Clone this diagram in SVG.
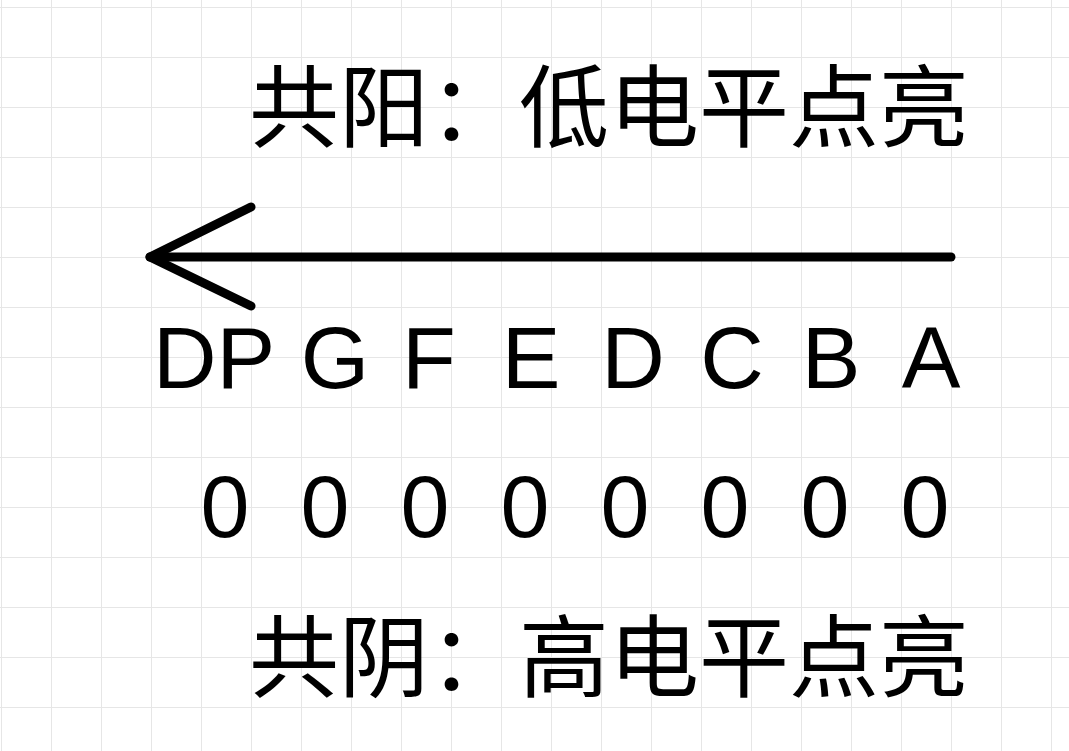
<svg xmlns="http://www.w3.org/2000/svg" width="1069" height="751" viewBox="0 0 1069 751">
<defs>
<pattern id="grid" x="1" y="7" width="50" height="50" patternUnits="userSpaceOnUse">
<path d="M0.5 0V50M0 0.5H50" fill="none" stroke="#e6e6e6" stroke-width="1"/>
</pattern>
<style>
.cjk{font-family:"Liberation Sans","Noto Sans CJK SC",sans-serif;font-size:90px;fill:#000}
.lat{font-family:"Liberation Sans",Arial,sans-serif;font-size:88px;fill:#000;text-anchor:middle}
.arrow{fill:none;stroke:#000;stroke-width:9;stroke-linecap:round;stroke-linejoin:round}
</style>
</defs>
<rect width="1069" height="751" fill="#ffffff"/>
<rect x="0" y="0" width="1069" height="751" fill="url(#grid)"/>
<g id="connectors">
<path class="arrow" d="M951 257H150"/>
<path class="arrow" d="M251 207L150 257L251 306"/>
</g>
<g id="title-anode"><text class="cjk" x="249" y="140">共阳：低电平点亮</text></g>
<g id="segments">
<text class="lat" x="214" y="388">DP</text>
<text class="lat" x="335" y="388">G</text>
<text class="lat" x="429" y="388">F</text>
<text class="lat" x="531" y="388">E</text>
<text class="lat" x="633" y="388">D</text>
<text class="lat" x="732" y="388">C</text>
<text class="lat" x="831" y="388">B</text>
<text class="lat" x="931" y="388">A</text>
</g>
<g id="bits">
<text class="lat" x="225" y="537">0</text>
<text class="lat" x="325" y="537">0</text>
<text class="lat" x="425" y="537">0</text>
<text class="lat" x="525" y="537">0</text>
<text class="lat" x="625" y="537">0</text>
<text class="lat" x="725" y="537">0</text>
<text class="lat" x="825" y="537">0</text>
<text class="lat" x="925" y="537">0</text>
</g>
<g id="title-cathode"><text class="cjk" x="249" y="690">共阴：高电平点亮</text></g>
</svg>
